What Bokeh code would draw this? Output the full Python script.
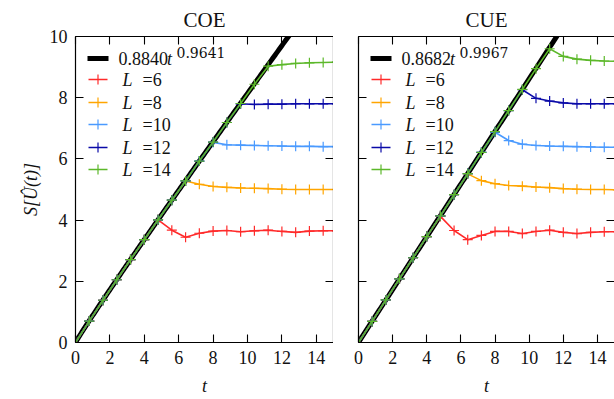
import numpy as np
from bokeh.plotting import figure
from bokeh.layouts import row
from bokeh.models import (LinearAxis, SingleIntervalTicker, CustomJSTickFormatter,
                          Range1d, Label, Arrow)
from bokeh.embed import file_html
from bokeh.resources import INLINE

# ---------------- data ----------------
t = [0.0, 0.8, 1.6, 2.4, 3.2, 4.0, 4.8, 5.6, 6.4, 7.2, 8.0, 8.8, 9.6,
     10.4, 11.2, 12.0, 12.8, 13.6, 14.4, 15.2]

sizes = [6, 8, 10, 12, 14]
colors = ["#ff2a2a", "#ffa500", "#4a9aff", "#0a0aa8", "#5cb82a"]

coe_L6 = [0.00, 0.70, 1.38, 2.05, 2.71, 3.36, 4.01, 3.67, 3.44, 3.57, 3.64, 3.66,
          3.62, 3.65, 3.67, 3.63, 3.60, 3.64, 3.65, 3.65]
coe_L8 = [0.00, 0.70, 1.38, 2.05, 2.71, 3.36, 4.01, 4.65, 5.28, 5.17, 5.10, 5.07,
          5.05, 5.04, 5.03, 5.01, 5.00, 5.00, 5.00, 5.00]
coe_L10 = [0.00, 0.70, 1.38, 2.05, 2.71, 3.36, 4.01, 4.65, 5.28, 5.93, 6.54, 6.46,
           6.45, 6.44, 6.43, 6.42, 6.41, 6.41, 6.40, 6.40]
coe_L12 = [0.00, 0.70, 1.38, 2.05, 2.71, 3.36, 4.01, 4.65, 5.28, 5.93, 6.55, 7.19,
           7.80, 7.78, 7.79, 7.79, 7.80, 7.80, 7.80, 7.80]
coe_L14 = [0.00, 0.70, 1.38, 2.05, 2.71, 3.36, 4.01, 4.65, 5.28, 5.93, 6.55, 7.19,
           7.81, 8.44, 9.03, 9.08, 9.12, 9.14, 9.15, 9.16]

cue_L6 = [0.00, 0.69, 1.39, 2.08, 2.77, 3.46, 4.12, 3.66, 3.36, 3.50, 3.63, 3.63,
          3.56, 3.63, 3.67, 3.60, 3.56, 3.60, 3.62, 3.62]
cue_L8 = [0.00, 0.69, 1.39, 2.08, 2.77, 3.46, 4.14, 4.83, 5.51, 5.29, 5.19, 5.13,
          5.11, 5.08, 5.06, 5.03, 5.01, 5.00, 5.00, 4.99]
cue_L10 = [0.00, 0.69, 1.39, 2.08, 2.77, 3.46, 4.14, 4.83, 5.52, 6.21, 6.87, 6.60,
           6.48, 6.44, 6.42, 6.41, 6.40, 6.39, 6.38, 6.38]
cue_L12 = [0.00, 0.69, 1.39, 2.08, 2.77, 3.46, 4.14, 4.83, 5.52, 6.21, 6.89, 7.58,
           8.26, 7.98, 7.89, 7.83, 7.80, 7.80, 7.80, 7.80]
cue_L14 = [0.00, 0.69, 1.39, 2.08, 2.77, 3.46, 4.14, 4.83, 5.52, 6.21, 6.89, 7.58,
           8.27, 8.95, 9.60, 9.35, 9.26, 9.22, 9.20, 9.19]

# fit S = a * t^b (coefficients from the legend)
coe_fit_a, coe_fit_b = 0.8840, 0.9641
cue_fit_a, cue_fit_b = 0.8682, 0.9967
coe_fit_label = ("0.8840", "0.9641")
cue_fit_label = ("0.8682", "0.9967")

x_ticks_interval = 2
y_ticks_interval = 2

SERIF = "Liberation Serif"
SUP_FONT = "DejaVu Serif"


def blank_fmt():
    return CustomJSTickFormatter(code="return ''")


def style_axis(ax, interval, labels=True, line=True):
    ax.ticker = SingleIntervalTicker(interval=interval, num_minor_ticks=0)
    ax.axis_line_color = "black" if line else None
    ax.axis_line_width = 1.2
    ax.major_tick_line_color = "black"
    ax.major_tick_line_width = 1.1
    ax.major_tick_in = 8
    ax.major_tick_out = 0
    ax.minor_tick_line_color = None
    if labels:
        ax.major_label_text_font = SERIF
        ax.major_label_text_font_size = "18px"
        ax.major_label_text_color = "#111111"
        ax.major_label_standoff = 8
    else:
        ax.formatter = blank_fmt()
        ax.major_label_standoff = 0


def make_panel(title, series, fit_a, fit_b, fit_label, width, left_border,
               ylabels, right_line):
    p = figure(width=width, height=399, output_backend="svg", toolbar_location=None,
               x_range=Range1d(0, 15), y_range=Range1d(0, 10),
               min_border_left=left_border, min_border_right=0,
               min_border_top=36, min_border_bottom=57)
    p.outline_line_color = None
    p.grid.grid_line_color = None
    p.background_fill_color = "white"
    p.border_fill_color = "white"

    p.title.text = title
    p.title.text_font = SERIF
    p.title.text_font_size = "21px"
    p.title.text_font_style = "normal"
    p.title.text_color = "#111111"
    p.title.align = "center"

    style_axis(p.xaxis[0], x_ticks_interval)
    p.xaxis.axis_label = "t"
    p.xaxis.axis_label_text_font = SERIF
    p.xaxis.axis_label_text_font_style = "italic"
    p.xaxis.axis_label_text_font_size = "18px"
    p.xaxis.axis_label_text_color = "#111111"
    p.xaxis.axis_label_text_line_height = 0.8
    p.xaxis.axis_label_standoff = 9

    style_axis(p.yaxis[0], y_ticks_interval, labels=ylabels)
    if ylabels:
        p.yaxis.axis_label = "S[Û(t)]"
        p.yaxis.axis_label_text_font = SERIF
        p.yaxis.axis_label_text_font_style = "italic"
        p.yaxis.axis_label_text_font_size = "18px"
        p.yaxis.axis_label_text_color = "#111111"
        p.yaxis.axis_label_standoff = 6

    top = LinearAxis()
    style_axis(top, x_ticks_interval, labels=False)
    p.add_layout(top, "above")
    right = LinearAxis()
    style_axis(right, y_ticks_interval, labels=False, line=right_line)
    p.add_layout(right, "right")

    tf = np.linspace(0, 15, 200)
    p.line(tf, fit_a * tf ** fit_b, line_color="black", line_width=5)

    for vals, c in zip(series, colors):
        p.line(t, vals, line_color=c, line_width=1.6)
        p.scatter(t, vals, marker="cross", size=10, line_color=c, line_width=1.2)

    # legend (screen units, relative to the frame)
    fh = 306
    rows = [22, 43, 66, 88, 111, 133]
    ya = fh - rows[0]
    p.add_layout(Arrow(end=None, x_start=12, y_start=ya, x_end=33, y_end=ya,
                       start_units="screen", end_units="screen",
                       line_color="black", line_width=5))
    p.add_layout(Label(x=43, y=ya, x_units="screen", y_units="screen",
                       text=fit_label[0], text_font=SERIF, text_font_size="18px",
                       text_color="#111111", text_baseline="middle"))
    p.add_layout(Label(x=91.5, y=ya, x_units="screen", y_units="screen",
                       text="t", text_font=SERIF, text_font_size="18px",
                       text_color="#111111",
                       text_font_style="italic", text_baseline="middle"))
    p.add_layout(Label(x=101, y=ya + 6, x_units="screen", y_units="screen",
                       text=fit_label[1], text_font=SUP_FONT, text_font_size="14px",
                       text_color="#111111", text_baseline="middle"))
    for L, c, r in zip(sizes, colors, rows[1:]):
        yy = fh - r
        p.add_layout(Arrow(end=None, x_start=13, y_start=yy, x_end=32, y_end=yy,
                           start_units="screen", end_units="screen",
                           line_color=c, line_width=1.6))
        p.add_layout(Arrow(end=None, x_start=22.5, y_start=yy - 5, x_end=22.5,
                           y_end=yy + 5, start_units="screen", end_units="screen",
                           line_color=c, line_width=1.2))
        p.add_layout(Label(x=47, y=yy, x_units="screen", y_units="screen",
                           text="L", text_font=SERIF, text_font_size="18px",
                           text_color="#111111",
                           text_font_style="italic", text_baseline="middle"))
        p.add_layout(Label(x=67, y=yy, x_units="screen", y_units="screen",
                           text="=" + str(L), text_font=SERIF, text_font_size="18px",
                           text_color="#111111", text_baseline="middle"))
    return p


left = make_panel("COE", [coe_L6, coe_L8, coe_L10, coe_L12, coe_L14],
                  coe_fit_a, coe_fit_b, coe_fit_label, 333, 75, True, True)
right = make_panel("CUE", [cue_L6, cue_L8, cue_L10, cue_L12, cue_L14],
                   cue_fit_a, cue_fit_b, cue_fit_label, 281, 25, False, False)

layout = row(left, right)
open("out.html", "w").write(file_html(layout, INLINE))
